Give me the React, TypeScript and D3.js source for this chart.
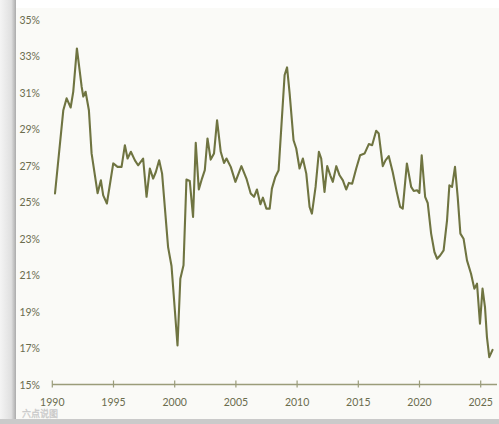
import React from "react";
import * as d3 from "d3";

const years: number[] = [
  1990.22, 1990.9, 1991.17, 1991.5, 1991.71, 1992.01, 1992.4, 1992.53, 1992.72, 1992.99,
  1993.21, 1993.7, 1993.97, 1994.16, 1994.46, 1994.98, 1995.33, 1995.66, 1995.93, 1996.15,
  1996.42, 1996.75, 1997.01, 1997.42, 1997.7, 1997.97, 1998.24, 1998.46, 1998.73, 1998.97,
  1999.46, 1999.74, 2000.23, 2000.46, 2000.72, 2000.96, 2001.23, 2001.5, 2001.72, 2001.97,
  2002.23, 2002.46, 2002.68, 2002.94, 2003.21, 2003.46, 2003.76, 2004.03, 2004.23, 2004.58,
  2004.96, 2005.45, 2005.86, 2006.21, 2006.48, 2006.72, 2007.0, 2007.21, 2007.49, 2007.76,
  2007.94, 2008.22, 2008.49, 2008.98, 2009.18, 2009.39, 2009.71, 2009.93, 2010.2, 2010.47,
  2010.75, 2011.02, 2011.21, 2011.51, 2011.78, 2011.97, 2012.24, 2012.46, 2012.71, 2012.92,
  2013.2, 2013.47, 2013.74, 2014.01, 2014.23, 2014.5, 2014.83, 2015.15, 2015.51, 2015.86,
  2016.13, 2016.46, 2016.67, 2017.0, 2017.22, 2017.49, 2017.81, 2018.14, 2018.42, 2018.63,
  2018.97, 2019.32, 2019.53, 2019.8, 2019.99, 2020.18, 2020.46, 2020.67, 2020.95, 2021.22,
  2021.44, 2021.7, 2021.97, 2022.25, 2022.44, 2022.66, 2022.9, 2023.12, 2023.34, 2023.6,
  2023.88, 2024.21, 2024.48, 2024.7, 2024.94, 2025.15, 2025.35, 2025.51, 2025.7, 2025.97,
];

const rates: number[] = [
  25.48, 30.05, 30.7, 30.2, 31.06, 33.44, 31.33, 30.8, 31.06, 30.05,
  27.68, 25.5, 26.2, 25.38, 24.93, 27.13, 26.94, 26.94, 28.13, 27.4,
  27.77, 27.3, 27.03, 27.4, 25.3, 26.85, 26.3, 26.66, 27.3, 26.57,
  22.54, 21.5, 17.14, 20.8, 21.54, 26.25, 26.17, 24.19, 28.26, 25.7,
  26.3, 26.76, 28.5, 27.34, 27.67, 29.5, 27.77, 27.16, 27.4, 26.94,
  26.12, 26.98, 26.3, 25.48, 25.3, 25.7, 24.89, 25.25, 24.65, 24.65,
  25.75, 26.39, 26.76, 31.98, 32.4, 30.97, 28.4, 27.95, 26.85, 27.4,
  26.57, 24.74, 24.38, 25.84, 27.77, 27.4, 25.57, 26.98, 26.48, 26.12,
  26.98, 26.48, 26.2, 25.7, 26.06, 26.02, 26.85, 27.58, 27.67, 28.19,
  28.13, 28.92, 28.77, 26.98, 27.3, 27.53, 26.66, 25.57, 24.74, 24.65,
  27.13, 25.84, 25.62, 25.66, 25.51, 27.58, 25.3, 24.96, 23.28, 22.27,
  21.9, 22.09, 22.36, 24.01, 25.93, 25.84, 26.94, 25.3, 23.28, 23.0,
  21.81, 21.08, 20.26, 20.53, 18.34, 20.26, 19.25, 17.6, 16.5, 16.9,
];

const xTicks: number[] = [1990, 1995, 2000, 2005, 2010, 2015, 2020, 2025];
const yTicks: number[] = [15, 17, 19, 21, 23, 25, 27, 29, 31, 33, 35];

const W = 499;
const H = 424;

export default function App() {
  const x = d3.scaleLinear().domain([1990, 2025]).range([52.3, 480.7]);
  const y = d3.scaleLinear().domain([15, 35]).range([384.5, 20]);
  const pts = years.map((yr, i) => [yr, rates[i]] as [number, number]);
  const line = d3
    .line<[number, number]>()
    .x((d) => x(d[0]))
    .y((d) => y(d[1]));

  const textColor = "#6a6c4e";
  const axisColor = "#9a9c7a";
  const lineColor = "#6f7441";
  const font = "Lato, 'Noto Sans', sans-serif";

  return (
    <svg
      width={W}
      height={H}
      style={{ position: "absolute", left: 0, top: 0, display: "block" }}
    >
      <defs>
        <linearGradient id="leftShade" x1="0" x2="1" y1="0" y2="0">
          <stop offset="0" stopColor="#f4f4f4" />
          <stop offset="0.7" stopColor="#e0e0e0" />
          <stop offset="1" stopColor="#ababab" />
        </linearGradient>
      </defs>
      <rect x={0} y={0} width={W} height={H} fill="#ffffff" />
      <rect x={0} y={0} width={16} height={H} fill="url(#leftShade)" />
      <rect x={16} y={8} width={W - 16} height={411} fill="#fafaf7" />
      <rect x={0} y={419} width={W} height={5} fill="#cacaca" />

      {/* y tick labels */}
      {yTicks.map((t) => (
        <text
          key={t}
          x={40}
          y={y(t)}
          textAnchor="end"
          dominantBaseline="central"
          fontSize={10.5}
          fontFamily={font}
          fill={textColor}
        >
          {t}%
        </text>
      ))}

      {/* x axis */}
      <line
        x1={x(1990)}
        x2={W - 2}
        y1={y(15)}
        y2={y(15)}
        stroke={axisColor}
        strokeWidth={1.4}
      />
      {xTicks.map((t) => (
        <g key={t}>
          <line
            x1={x(t)}
            x2={x(t)}
            y1={y(15) - 4}
            y2={y(15) + 3}
            stroke={axisColor}
            strokeWidth={1.2}
          />
          <text
            x={x(t)}
            y={401.5}
            textAnchor="middle"
            dominantBaseline="central"
            fontSize={10.5}
            fontFamily={font}
            fill={textColor}
          >
            {t}
          </text>
        </g>
      ))}

      {/* data line */}
      <path
        d={line(pts) || ""}
        fill="none"
        stroke={lineColor}
        strokeWidth={2.1}
        strokeLinejoin="round"
        strokeLinecap="round"
      />

      {/* watermark */}
      <text
        x={22}
        y={417}
        fontSize={9}
        fontFamily="'Noto Sans CJK SC', sans-serif"
        fill="#d6d6d6"
        stroke="#c2c2c2"
        strokeWidth={0.3}
      >
        六点说图
      </text>
    </svg>
  );
}
